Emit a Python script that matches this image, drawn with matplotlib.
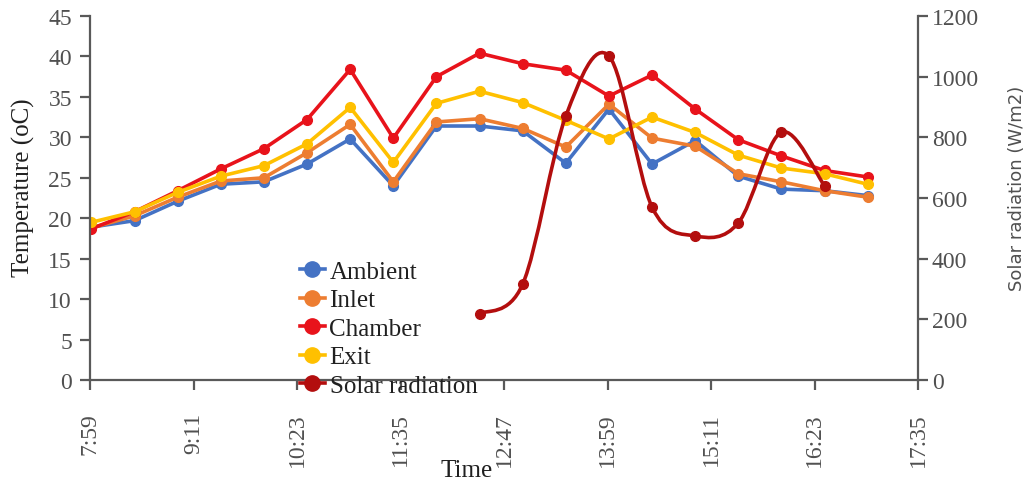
import matplotlib
matplotlib.use("Agg")
import matplotlib.pyplot as plt
from matplotlib.path import Path
from matplotlib.patches import PathPatch
from matplotlib.lines import Line2D

# readings every half hour, 8:00 to 17:00
times = ["8:00", "8:30", "9:00", "9:30", "10:00", "10:30", "11:00", "11:30", "12:00", "12:30",
         "13:00", "13:30", "14:00", "14:30", "15:00", "15:30", "16:00", "16:30", "17:00"]
ambient = [18.9, 19.7, 22.1, 24.2, 24.5, 26.7, 29.8, 24.0, 31.4, 31.4,
           30.8, 26.8, 33.5, 26.7, 29.6, 25.2, 23.6, 23.4, 22.8]
inlet = [18.8, 20.3, 22.6, 24.6, 25.0, 28.1, 31.6, 24.5, 31.9, 32.3,
         31.1, 28.8, 34.1, 29.9, 28.9, 25.5, 24.5, 23.4, 22.6]
chamber = [18.7, 20.8, 23.4, 26.1, 28.6, 32.2, 38.4, 29.9, 37.5, 40.4,
           39.1, 38.3, 35.1, 37.7, 33.5, 29.7, 27.7, 25.9, 25.1]
exit_temp = [19.5, 20.8, 23.2, 25.2, 26.5, 29.2, 33.7, 26.9, 34.2, 35.7,
             34.3, 32.1, 29.8, 32.5, 30.6, 27.8, 26.2, 25.5, 24.2]

solar_times = ["12:30", "13:00", "13:30", "14:00", "14:30", "15:00", "15:30", "16:00", "16:30"]
solar = [218, 316, 870, 1068, 570, 475, 518, 817, 640]

tick_labels = ["7:59", "9:11", "10:23", "11:35", "12:47", "13:59", "15:11", "16:23", "17:35"]

COLORS = {"Ambient": "#4472C4", "Inlet": "#ED7D31", "Chamber": "#E8131B",
          "Exit": "#FFC000", "Solar radiation": "#B30E0E"}
SERIF = ["Liberation Serif", "DejaVu Serif"]


def to_min(t):
    h, m = t.split(":")
    return int(h) * 60 + int(m)


def smooth_path(xs, ys):
    """Bezier path through the points, like a spreadsheet 'smoothed line'."""
    pts = list(zip(xs, ys))
    verts = [pts[0]]
    codes = [Path.MOVETO]
    n = len(pts)
    for i in range(n - 1):
        p0 = pts[max(i - 1, 0)]
        p1 = pts[i]
        p2 = pts[i + 1]
        p3 = pts[min(i + 2, n - 1)]
        c1 = (p1[0] + (p2[0] - p0[0]) / 6, p1[1] + (p2[1] - p0[1]) / 6)
        c2 = (p2[0] - (p3[0] - p1[0]) / 6, p2[1] - (p3[1] - p1[1]) / 6)
        verts += [c1, c2, p2]
        codes += [Path.CURVE4] * 3
    return Path(verts, codes)


x = [to_min(t) for t in times]
xs = [to_min(t) for t in solar_times]

fig = plt.figure(figsize=(10.27, 4.85), dpi=100)
ax = fig.add_axes([90 / 1027, 1 - 381 / 485, (918 - 90) / 1027, (381 - 17) / 485])
ax2 = ax.twinx()

lw, ms = 2.6, 7
for name, vals in [("Ambient", ambient), ("Inlet", inlet), ("Chamber", chamber), ("Exit", exit_temp)]:
    ax.plot(x, vals, color=COLORS[name], lw=lw, marker="o", ms=ms, solid_joinstyle="round")

ax2.add_patch(PathPatch(smooth_path(xs, solar), fill=False, edgecolor=COLORS["Solar radiation"],
                        lw=lw, capstyle="round"))
ax2.plot(xs, solar, ls="none", marker="o", ms=ms, color=COLORS["Solar radiation"])

ax.set_xlim(to_min(tick_labels[0]), to_min(tick_labels[-1]))
ax.set_xticks([to_min(t) for t in tick_labels])
ax.set_xticklabels(tick_labels, rotation=90, family=SERIF, fontsize=17, color="#505050")
ax.set_ylim(0, 45)
ax.set_yticks(range(0, 46, 5))
ax2.set_ylim(0, 1200)
ax2.set_yticks(range(0, 1201, 200))

for a in (ax, ax2):
    a.spines["top"].set_visible(False)
    for sp in ("left", "right", "bottom"):
        a.spines[sp].set_color("#595959")
        a.spines[sp].set_linewidth(1.6)
    a.tick_params(colors="#595959", width=1.6, length=7, pad=6, labelcolor="#505050", labelsize=17)
    for lab in a.get_yticklabels():
        lab.set_family(SERIF)
ax.tick_params(axis="x", pad=16)
ax2.tick_params(axis="y", pad=3)
ax2.spines["left"].set_visible(False)
ax2.spines["bottom"].set_visible(False)
ax.spines["right"].set_visible(False)

ax.set_ylabel("Temperature (oC)", family=SERIF, fontsize=18, color="#202020")
ax.yaxis.set_label_coords(-0.066, 0.53)
ax.set_xlabel("Time", family=SERIF, fontsize=18, color="#202020")
ax.xaxis.set_label_coords((467 - 90) / 828, -0.218)
ax2.set_ylabel("Solar radiation (W/m2)", fontsize=13, color="#505050")
ax2.yaxis.set_label_coords((1008 - 90) / 828, 0.53)

handles = [Line2D([], [], color=c, lw=lw, marker="o", ms=11) for c in COLORS.values()]
leg = fig.legend(handles, list(COLORS.keys()), loc="upper left",
                 bbox_to_anchor=(287 / 1027, 1 - 249 / 485), frameon=False,
                 prop={"family": SERIF, "size": 18}, handlelength=1.0, handletextpad=0.2,
                 labelspacing=0.24, borderpad=0)
for t in leg.get_texts():
    t.set_color("#202020")

fig.savefig("out.png", dpi=100)
